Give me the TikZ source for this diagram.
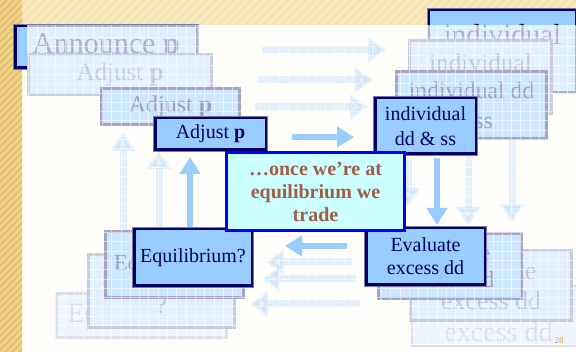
\documentclass[tikz,border=0pt]{standalone}
\usepackage{fontspec}
\setmainfont{Liberation Serif}
\usetikzlibrary{arrows.meta}
\definecolor{boxfill}{HTML}{99CCFF}
\definecolor{navy}{HTML}{000066}
\definecolor{shadowc}{HTML}{7A7AA8}
\definecolor{centfill}{HTML}{CCFFFF}
\definecolor{cblue}{HTML}{0000FF}
\definecolor{centtxt}{HTML}{A05E48}
\definecolor{arrowc}{HTML}{99CCFF}
\definecolor{ghostline}{HTML}{4A4A8E}
\definecolor{ghosttxt}{HTML}{3C3C80}
\definecolor{cream}{HTML}{FFFCF0}
\definecolor{topband}{HTML}{FAEBC2}
\definecolor{topstripe}{HTML}{F6E2B0}
\definecolor{gold}{HTML}{F2D690}
\definecolor{goldstripe}{HTML}{E6C270}
\definecolor{numc}{HTML}{E0A040}
\begin{document}
\begin{tikzpicture}[x=1pt,y=-1pt,
  mainbox/.style={rectangle,fill=boxfill,draw=navy,line width=2.5pt,text=navy,align=center,inner sep=0pt,
    preaction={draw=shadowc,line width=4.5pt}},
  ghost/.style={rectangle,fill=boxfill!#1!white,draw=ghostline!#1!white,line width=2.2pt,
    text=ghosttxt!#1!white,align=center,inner sep=0pt},
  mainarrow/.style={arrowc,line width=6pt,-{Triangle[width=20pt,length=17pt]}},
  fadearrow/.style={arrowc,line width=7pt,-{Triangle[width=24pt,length=18pt]}},
  fs/.style={font=\fontsize{#1}{#1}\selectfont}
]
\useasboundingbox (0,0) rectangle (576,352);
% background
\fill[cream] (0,0) rectangle (576,352);
\fill[topband] (0,0) rectangle (576,25);
\begin{scope}
  \clip (0,0) rectangle (576,25);
  \foreach \i in {0,9,...,640} \draw[topstripe,line width=3pt] (\i,0) -- (\i-40,40);
\end{scope}
\fill[gold] (0,0) rectangle (22,352);
\begin{scope}
  \clip (0,0) rectangle (22,352);
  \foreach \i in {0,7,...,400} \draw[goldstripe,line width=2.2pt] (\i,0) -- (\i-400,400);
\end{scope}

% oldest (solid) layer, later covered by the white veil
\node[mainbox,minimum width=181.5pt,minimum height=41.5pt,font=\fontsize{30}{33}\selectfont] (ann) at (106,47) {Announce \textbf{p}};
\node[mainbox,minimum width=147pt,minimum height=82pt,font=\fontsize{29}{33}\selectfont] (indA) at (502.5,51) {individual\\dd \& ss};

% white veil
\fill[white,opacity=0.68] (27,25) rectangle (576,352);

% faded arrows
\begin{scope}[opacity=0.27]
  \draw[fadearrow] (262,50) -- (386,50);
  \draw[fadearrow] (258,80) -- (373,80);
  \draw[fadearrow] (255,107) -- (368,107);
  \draw[fadearrow] (123,245) -- (123,133);
  \draw[fadearrow] (159,240) -- (159,151);
  \draw[fadearrow] (512,140) -- (512,222);
  \draw[fadearrow] (468,150) -- (468,225);
  \draw[fadearrow] (408,160) -- (408,206);
  \draw[fadearrow] (352,262) -- (266,262);
  \draw[fadearrow] (356,279) -- (262,279);
  \draw[fadearrow] (360,304) -- (250,304);
\end{scope}

% ghost boxes, top left
\node[ghost=28,minimum width=183pt,minimum height=40pt,fs=25] (gadj1) at (120,74.5) {Adjust \textbf{p}};
\node[ghost=50,minimum width=138pt,minimum height=36pt,fs=24] (gadj2) at (170.5,106.5) {Adjust \textbf{p}};
% ghost boxes, top right
\node[ghost=30,minimum width=142pt,minimum height=73pt,font=\fontsize{25.4}{29}\selectfont] (gind2) at (480.5,77) {individual\\dd \& ss};
\node[ghost=50,minimum width=150pt,minimum height=67pt,font=\fontsize{23.6}{30}\selectfont] (gind3) at (471.5,105) {individual dd\\\& ss};
% ghost boxes, bottom left
\node[ghost=18,minimum width=170pt,minimum height=44pt,fs=28] (geq3) at (141.5,315.5) {Equilibrium?};
\node[ghost=30,minimum width=146pt,minimum height=73pt,font=\fontsize{25}{29}\selectfont] (geq2) at (161.5,291) {Equilibrium\\?};
\node[ghost=50,minimum width=138pt,minimum height=66pt,fs=23] (geq1) at (174.5,264.5) {Equilibrium?};
% ghost boxes, bottom right
\node[ghost=18,minimum width=173pt,minimum height=60pt,font=\fontsize{28}{32}\selectfont] (gev3) at (498.5,316) {Evaluate\\excess dd};
\node[ghost=30,minimum width=161pt,minimum height=70pt,font=\fontsize{26}{30}\selectfont] (gev2) at (491,285.5) {Evaluate\\excess dd};
\node[ghost=50,minimum width=143pt,minimum height=65pt,font=\fontsize{23}{27}\selectfont] (gev1) at (450,266) {Evaluate\\excess dd};

% grid texture
\draw[white,line width=0.8pt,opacity=0.55] (27,25) grid[step=9.3pt] (576,352);

% main boxes
\node[mainbox,minimum width=110.5pt,minimum height=31.5pt,fs=20] (adj) at (210.5,134) {Adjust \textbf{p}};
\node[mainbox,minimum width=100.5pt,minimum height=55.5pt,font=\fontsize{20}{25}\selectfont] (ind) at (425.5,126) {individual\\dd \& ss};
\node[mainbox,minimum width=117.5pt,minimum height=56.5pt,fs=20] (equ) at (193,257.5) {Equilibrium?};
\node[mainbox,minimum width=118.5pt,minimum height=56.5pt,font=\fontsize{20}{23}\selectfont] (eva) at (425.5,256.5) {Evaluate\\excess dd};

% main arrows
\draw[mainarrow,shorten <=25pt,shorten >=20pt] (adj.east |- 0,137) -- (ind.west |- 0,137);
\draw[mainarrow,shorten <=3pt,shorten >=2pt] (ind.south -| 437,0) -- (eva.north -| 437,0);
\draw[mainarrow,shorten <=18pt,shorten >=32pt] (eva.west |- 0,246) -- (equ.east |- 0,246);
\draw[mainarrow,shorten <=1pt,shorten >=6pt] (equ.north -| 190,0) -- (adj.south -| 190,0);

% central box
\node[draw=cblue,line width=3pt,fill=centfill,text=centtxt,font=\bfseries\fontsize{20}{23}\selectfont,
  align=center,minimum width=178pt,minimum height=78pt,inner sep=0pt] (ctr) at (315.5,191.5)
  {…once we’re at\\equilibrium we\\trade};

% page number
\node[text=numc,font=\fontsize{9}{10}\selectfont,inner sep=0pt] (pg) at (559,341) {28};
\end{tikzpicture}
\end{document}
